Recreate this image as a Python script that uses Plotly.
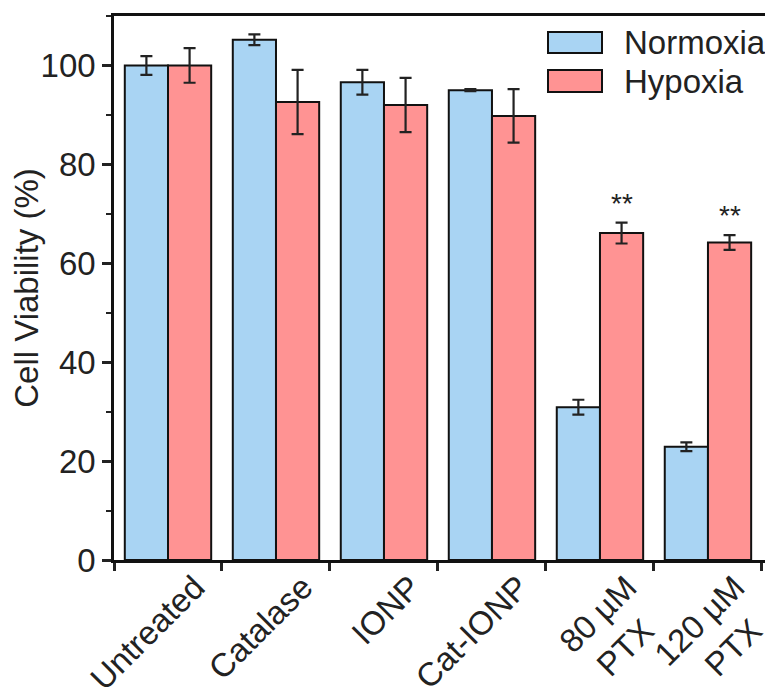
import plotly.graph_objects as go

categories = ["Untreated", "Catalase", "IONP", "Cat-IONP", "80 µM<br>PTX", "120 µM<br>PTX"]
series_names = ["Normoxia", "Hypoxia"]
normoxia = [100.0, 105.2, 96.6, 95.0, 30.9, 22.9]
normoxia_err = [1.9, 1.1, 2.5, 0.2, 1.5, 0.9]
hypoxia = [100.0, 92.6, 92.0, 89.8, 66.1, 64.2]
hypoxia_err = [3.5, 6.5, 5.5, 5.4, 2.1, 1.5]
significance = ["", "", "", "", "**", "**"]
colors = ["#A9D4F3", "#FF9393"]
y_ticks = [0, 20, 40, 60, 80, 100]

FONT = "Liberation Sans, Arial, sans-serif"
FS = 33

# second lines of two-line labels are centred under the first line (pad the end)
tick_text = [c + "\u00a0\u00a0" if "<br>" in c else c for c in categories]

fig = go.Figure()
for name, vals, errs, col in [(series_names[0], normoxia, normoxia_err, colors[0]),
                              (series_names[1], hypoxia, hypoxia_err, colors[1])]:
    fig.add_trace(go.Bar(
        x=categories, y=vals, name=name, marker=dict(color=col, line=dict(color="#111", width=2)),
        error_y=dict(type="data", array=errs, visible=True, color="#222", thickness=2.2, width=6),
        showlegend=False,
    ))

# significance marks above hypoxia bars
for i, s in enumerate(significance):
    if s:
        fig.add_annotation(x=i + 0.2, y=hypoxia[i] + hypoxia_err[i], text=s, showarrow=False,
                           yanchor="bottom", yshift=2, font=dict(size=28, family=FONT, color="#222"))

# legend drawn with shapes (paper coords of the plot area)
PW = 658.0
def px(x):
    return (x - 114) / PW

leg_y = [(0.9706, 0.932), (0.9007, 0.8603)]
for (y1, y0), name, col in zip(leg_y, series_names, colors):
    fig.add_shape(type="rect", xref="paper", yref="paper", x0=px(548), x1=px(602), y0=y0, y1=y1,
                  fillcolor=col, line=dict(color="#111", width=2))
    fig.add_annotation(xref="paper", yref="paper", x=px(622), y=(y0 + y1) / 2, text=name,
                       showarrow=False, xanchor="left", yanchor="middle",
                       font=dict(size=FS, family=FONT, color="#222"))

# page body has an 8px default margin, so the figure is shrunk by 8px to fit the window
fig.update_layout(
    width=765, height=686,
    margin=dict(l=106, r=1, t=8, b=134),
    paper_bgcolor="white", plot_bgcolor="white",
    barmode="group", bargap=0.2, bargroupgap=0,
    font=dict(family=FONT, size=FS, color="#222"),
    xaxis=dict(
        type="category", automargin=False,
        tickmode="array", tickvals=categories, ticktext=tick_text,
        range=[-0.5, 5.593], tickangle=-45, tickson="boundaries",
        ticks="outside", ticklen=8, tickwidth=2.5, tickcolor="#222",
        showline=True, linewidth=2.5, linecolor="#111", mirror=True,
        showgrid=False, zeroline=False, ticklabelshift=27, ticklabelstandoff=-8,
        tickfont=dict(size=FS, family=FONT, color="#222"),
    ),
    yaxis=dict(
        automargin=False,
        range=[0, 110], tickvals=y_ticks, ticks="outside", ticklen=9, tickwidth=2.5,
        tickcolor="#222", showline=True, linewidth=2.5, linecolor="#111", mirror=True,
        showgrid=False, zeroline=False,
        minor=dict(dtick=10, ticks="outside", ticklen=5, tickwidth=2, tickcolor="#222"),
        tickfont=dict(size=FS, family=FONT, color="#222"),
        title=dict(text="Cell Viability (%)", font=dict(size=FS, family=FONT, color="#222"), standoff=10),
    ),
)

fig.write_html("out.html")
